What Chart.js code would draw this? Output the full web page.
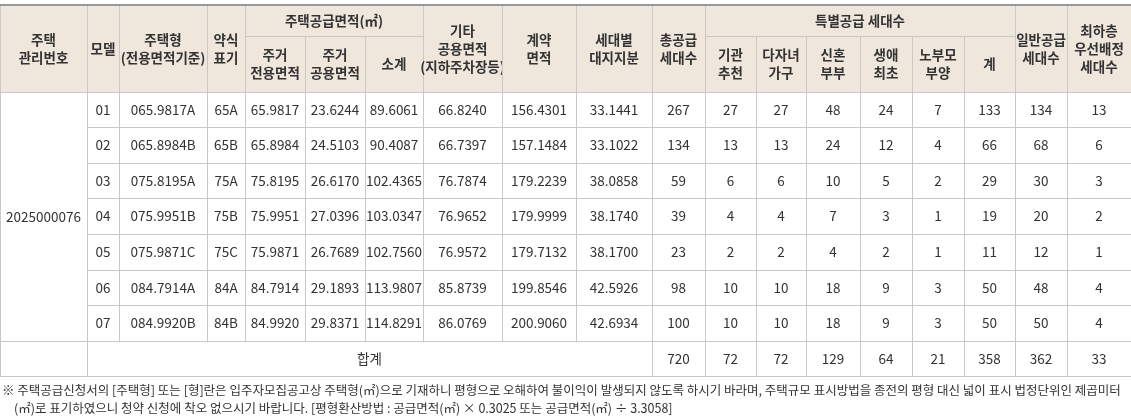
<!DOCTYPE html>
<html><head><meta charset="utf-8">
<script src="https://cdn.jsdelivr.net/npm/chart.js@4/dist/chart.umd.min.js"></script>
<style>body{margin:0;background:#fff}canvas{display:block}</style>
</head><body>
<canvas id="tbl" width="1131" height="418"></canvas>
<script>
// table data
const mgmtNo = '2025000076';
const models = ['01','02','03','04','05','06','07'];
const houseTypes = ['065.9817A','065.8984B','075.8195A','075.9951B','075.9871C','084.7914A','084.9920B'];
const shortNames = ['65A','65B','75A','75B','75C','84A','84B'];
const privateArea = ['65.9817','65.8984','75.8195','75.9951','75.9871','84.7914','84.9920'];
const commonArea = ['23.6244','24.5103','26.6170','27.0396','26.7689','29.1893','29.8371'];
const supplyArea = ['89.6061','90.4087','102.4365','103.0347','102.7560','113.9807','114.8291'];
const otherArea = ['66.8240','66.7397','76.7874','76.9652','76.9572','85.8739','86.0769'];
const contractArea = ['156.4301','157.1484','179.2239','179.9999','179.7132','199.8546','200.9060'];
const landShare = ['33.1441','33.1022','38.0858','38.1740','38.1700','42.5926','42.6934'];
const totalUnits = [267,134,59,39,23,98,100];
const instUnits = [27,13,6,4,2,10,10];
const multiChild = [27,13,6,4,2,10,10];
const newlywed = [48,24,10,7,4,18,18];
const firstLife = [24,12,5,3,2,9,9];
const elderly = [7,4,2,1,1,3,3];
const specialSum = [133,66,29,19,11,50,50];
const generalUnits = [134,68,30,20,12,48,50];
const lowFloor = [13,6,3,2,1,4,4];
const totals = [720,72,72,129,64,21,358,362,33];
const notes = [
  '※ 주택공급신청서의 [주택형] 또는 [형]란은 입주자모집공고상 주택형(㎡)으로 기재하니 평형으로 오해하여 불이익이 발생되지 않도록 하시기 바라며, 주택규모 표시방법을 종전의 평형 대신 넓이 표시 법정단위인 제곱미터',
  '(㎡)로 표기하였으니 청약 신청에 착오 없으시기 바랍니다. [평형환산방법 : 공급면적(㎡) × 0.3025 또는 공급면적(㎡) ÷ 3.3058]'
];

const cols = [0,87,119,207,245,305,365,423,502,576,652,705,756,806,860,912,964,1015,1067,1131];
const rows = [5,36,92,127,163,198,234,270,305,341,376];
const dataCols = [models,houseTypes,shortNames,privateArea,commonArea,supplyArea,otherArea,contractArea,landShare,
  totalUnits,instUnits,multiChild,newlywed,firstLife,elderly,specialSum,generalUnits,lowFloor];

const tablePlugin = {
  id: 'table',
  afterDraw(chart) {
    const c = chart.ctx, xs = chart.scales.x, ys = chart.scales.y;
    const X = v => xs.getPixelForValue(v), Y = v => ys.getPixelForValue(v);
    const font = "'Noto Sans CJK KR', 'Noto Sans', sans-serif";
    function cell(x0,x1,y0,y1,lines,opt={}) {
      const px0=X(x0),px1=X(x1),py0=Y(y0),py1=Y(y1);
      if (opt.bg){c.fillStyle=opt.bg;c.fillRect(px0,py0,px1-px0,py1-py0);}
      c.strokeStyle='#c8c8c8';c.lineWidth=1;
      c.strokeRect(Math.round(px0)+0.5,Math.round(py0)+0.5,px1-px0,py1-py0);
      c.fillStyle='#333';c.textAlign='center';c.textBaseline='middle';
      c.font=(opt.bold?'bold ':'')+'13.5px '+font;
      const lh=18, cy=(py0+py1)/2-(lines.length-1)*lh/2;
      lines.forEach((t,i)=>c.fillText(String(t),(px0+px1)/2,cy+i*lh));
    }
    const hb='#efe6dc', H={bg:hb,bold:true};
    const head=(i,l)=>cell(cols[i],cols[i+1],rows[0],rows[2],l,H);
    const sub=(i,l)=>cell(cols[i],cols[i+1],rows[1],rows[2],l,H);
    head(0,['주택','관리번호']);head(1,['모델']);head(2,['주택형','(전용면적기준)']);head(3,['약식','표기']);
    cell(cols[4],cols[7],rows[0],rows[1],['주택공급면적(㎡)'],H);
    sub(4,['주거','전용면적']);sub(5,['주거','공용면적']);sub(6,['소계']);
    head(7,['기타','공용면적','(지하주차장등)']);head(8,['계약','면적']);head(9,['세대별','대지지분']);
    head(10,['총공급','세대수']);
    cell(cols[11],cols[17],rows[0],rows[1],['특별공급 세대수'],H);
    sub(11,['기관','추천']);sub(12,['다자녀','가구']);sub(13,['신혼','부부']);sub(14,['생애','최초']);sub(15,['노부모','부양']);sub(16,['계']);
    head(17,['일반공급','세대수']);head(18,['최하층','우선배정','세대수']);
    cell(cols[0],cols[1],rows[2],rows[9],[mgmtNo]);
    for(let r=0;r<models.length;r++)
      dataCols.forEach((arr,k)=>cell(cols[k+1],cols[k+2],rows[r+2],rows[r+3],[arr[r]]));
    cell(cols[0],cols[1],rows[9],rows[10],[]);
    cell(cols[1],cols[10],rows[9],rows[10],['합계']);
    totals.forEach((v,k)=>cell(cols[k+10],cols[k+11],rows[9],rows[10],[v]));
    c.strokeStyle='#999';c.lineWidth=2;
    c.beginPath();c.moveTo(X(0),Y(rows[0]));c.lineTo(X(1131),Y(rows[0]));c.stroke();
    c.fillStyle='#333';c.textAlign='left';c.textBaseline='middle';c.font='12.5px '+font;
    c.fillText(notes[0],X(2),Y(390));c.fillText(notes[1],X(14),Y(408));
  }
};

new Chart(document.getElementById('tbl'), {
  type: 'scatter',
  data: { datasets: [{ data: [] }] },
  options: {
    responsive: false, animation: false,
    layout: { padding: 0 },
    plugins: { legend: { display: false }, tooltip: { enabled: false } },
    scales: {
      x: { type: 'linear', min: 0, max: 1131, display: false },
      y: { type: 'linear', min: 0, max: 418, reverse: true, display: false }
    }
  },
  plugins: [tablePlugin]
});
</script>
</body></html>
